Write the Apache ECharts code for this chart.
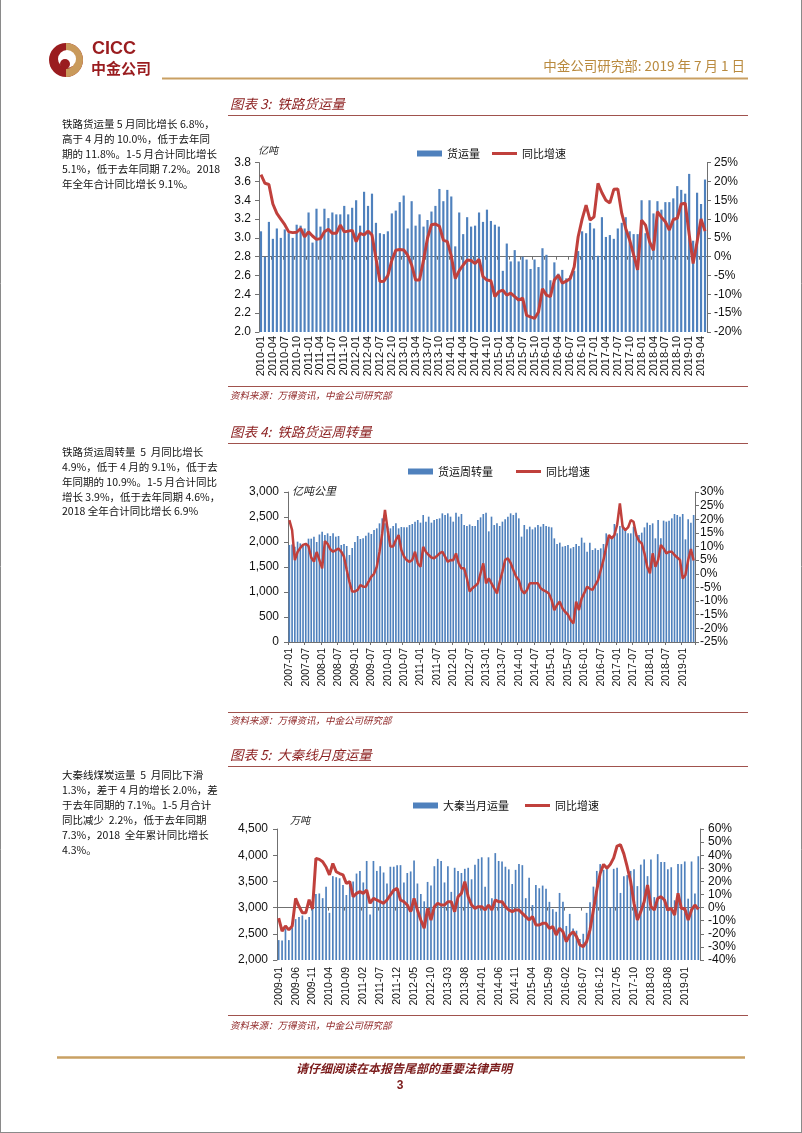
<!DOCTYPE html>
<html><head><meta charset="utf-8">
<script src="https://cdn.jsdelivr.net/npm/echarts@6/dist/echarts.min.js"></script>
<style>html,body{margin:0;padding:0;background:#fff}#c{width:802px;height:1133px}</style>
</head><body><div id="c"></div>
<script>
// ---------- Chart 3: 铁路货运量 (亿吨), 2010-01 .. 2019-05 ----------
const railVolume = [3.07,2.80,3.17,2.99,3.10,3.00,3.09,3.05,3.00,3.14,3.13,3.10,
3.27,2.95,3.31,3.12,3.31,3.21,3.27,3.25,3.25,3.34,3.25,3.32,
3.40,3.13,3.49,3.34,3.47,3.16,3.05,3.04,3.07,3.26,3.29,3.38,
3.45,3.10,3.39,3.13,3.25,3.12,3.19,3.28,3.34,3.52,3.39,3.51,
3.44,2.91,3.27,3.04,3.22,3.12,3.13,3.27,3.17,3.30,3.18,3.14,
3.12,2.65,2.94,2.75,2.87,2.75,2.80,2.77,2.67,2.77,2.69,2.89,
2.82,2.55,2.74,2.62,2.66,2.57,2.60,2.65,2.86,3.07,3.05,3.16,
3.10,2.81,3.22,3.01,3.03,2.99,3.10,3.16,3.22,3.07,3.04,3.04,
3.40,3.05,3.40,3.26,3.39,3.30,3.38,3.38,3.42,3.55,3.51,3.47,
3.68,2.97,3.48,3.36,3.62];
const railVolumeYoY = [21.8,19.5,19.2,14,11.5,10,8.5,6.6,6.4,6.5,7.5,5.3,
6.6,5.5,4.6,4.8,6.6,7.3,6.2,6.2,8.4,6.6,6.8,7,
4,6.2,5.8,6.8,5.8,-0.4,-6.6,-6.5,-5,-1,1.7,1.9,
1.8,0.4,-2.2,-6.2,-6.2,-0.9,4.9,8.5,8.7,8.1,4.4,4,
0.2,-5.8,-3.7,-2.2,-0.9,-1,-1.8,-0.7,-5.3,-6.2,-6.4,-10.6,
-9.3,-8.9,-10.2,-9.7,-10.6,-11.5,-11,-15.6,-16,-16.4,-14.7,-8.5,
-10.2,-10.6,-6.2,-4.9,-7,-6.5,-5.8,-2.7,5.3,10,13.7,9.7,
10.6,19.5,17,15,14.3,17.9,18,11.5,7.5,4.4,0.5,-3.5,
9.7,8.4,4,1.7,12,10.5,9.3,7.1,9.9,10.2,14,14.2,
6,-1.8,4,10,6.8];

// ---------- Chart 4: 铁路货运周转量 (亿吨公里), 2007-01 .. 2019-05 ----------
const railTurnover = [1940,1950,1907,2007,1973,1920,1940,2067,2067,2107,
2000,2150,2207,2140,2173,2120,2173,2107,2120,1940,
1960,1920,1740,1880,2000,2120,2060,2073,2127,2187,
2160,2240,2273,2373,2473,2373,2307,2273,2320,2373,
2273,2300,2293,2293,2340,2360,2407,2440,2387,2540,
2407,2507,2387,2440,2460,2473,2573,2540,2573,2507,
2407,2587,2507,2560,2340,2320,2350,2320,2320,2440,
2493,2560,2587,2213,2507,2340,2373,2320,2407,2453,
2507,2573,2540,2587,2473,2107,2340,2253,2307,2253,
2293,2340,2307,2360,2320,2307,2293,2073,1960,1987,
1907,1920,1940,1873,1900,1960,1920,2087,1987,1807,
1987,1840,1873,1840,1873,1960,2173,2120,2107,2360,
2173,2320,2340,2250,2173,2173,2307,2173,2140,2187,
2293,2387,2340,2373,2073,2440,2073,2427,2407,2427,
2473,2560,2540,2507,2560,2053,2453,2387,2540];
const railTurnoverYoY = [19.7,16,5,8,9.5,10.6,11,10.2,6,4.5,
8,5,2,12,11,9,8.1,8.7,9.3,8.1,
6.3,1.4,-3,-6.5,-6.5,-5.9,-4.1,-4.7,-4.7,-2.9,
-1,0,2.6,8,14.8,23.4,16,10,10,12.4,
14.2,8.7,6.3,5,4.4,5.1,8.1,3.8,2.6,9.9,
8,6.9,6,5.7,6.5,7.5,8.1,6.3,4.4,5.1,
5,7.5,3.8,2,2,-1.7,-6.5,-5.3,-4.5,-3.5,
0.2,3.8,-3.5,-1.7,-3.5,-5.3,-7.2,-2.9,0.8,5.1,
5.7,4,1.4,-1,-2.3,-5.9,-7.2,-5.9,-3.5,-3.5,
-3.5,-3.5,-5.3,-6,-6.5,-7.2,-9.6,-13.3,-11.4,-10.2,
-12.7,-14,-15,-17,-18.2,-10.2,-13.3,-9,-7,-4.7,
-5.5,-5.9,-4.1,-2.3,1.4,5.1,9.9,14.2,13,14.2,
18,25.8,17.3,16,17,19.7,19.1,14.2,12,11.2,
7.5,2.6,0.2,7.5,2.6,5.1,10.6,9.3,7.5,8.1,
8.1,6.9,6,5.1,-1.7,-0.4,5,9.1,4.9];

// ---------- Chart 5: 大秦线月度运量 (万吨), 2009-01 .. 2019-05 ----------
const daqinVolume = [2380,2370,2600,2380,2620,2780,2820,2850,2770,2820,
3050,3260,3270,3180,3400,2900,3600,3580,3560,3430,
3240,3500,3500,3650,3700,3480,3890,2870,3890,3700,
3790,3670,3460,3780,3780,3810,3810,3480,3660,3690,
3900,3460,3260,3120,3490,3420,3790,3930,3890,3480,
3790,3300,3760,3700,3660,3740,3760,3540,3820,3930,
3960,3400,3960,3180,4040,3890,3880,3780,3730,3450,
3720,3830,3810,3180,3570,3050,3430,3370,3420,3360,
3110,2970,2920,3280,3110,2650,2880,2600,2560,2400,
2500,2900,3100,3400,3700,3830,3720,3800,3000,3740,
3760,3280,3600,3620,3700,3730,3410,3820,3920,3600,
3920,3200,4020,3870,3870,3730,3770,3140,3830,3830,
3880,3170,3880,3270,3980];
const daqinYoY = [-8,-18,-14,-17,-14,7,1,-4,-4,6,
-1,37.6,36.8,35,31,25,33.7,27.4,26,25,
18.5,19.8,8.3,10.9,12.2,10.9,13.4,3.3,7.1,5.8,
4.5,3.3,5.8,9.6,13.4,14.7,5.8,4.5,2,-3.1,
7.1,-1.8,-9.5,-15.8,-0.6,-9.5,0.7,3.3,2,2,
4.5,4.5,-3.1,8.3,10.9,19.8,8.3,2,-0.6,0.7,
0.7,-1.8,2,-1.8,5.8,4.5,4.5,0.7,-1.8,-3.1,
-1.8,-1.8,-4.4,-6.9,-9.5,-6.9,-13.3,-13.3,-12,-12,
-15.8,-14.5,-20.9,-15.8,-18.4,-26,-20.9,-18.4,-22.2,-28.5,
-29.8,-26,-17,-1.8,13.4,26,33,30,33,38,
47,48,41,31,20,3.3,-9.5,-3.1,4.5,17.2,
0.7,-1.8,7.1,8.3,5.8,-1.8,-0.6,-5.7,10.9,-0.6,
-0.6,-9.5,-1.8,2.0,-1.3];

// category labels (months)
function months(y, m, n) {
  const out = [];
  for (let i = 0; i < n; i++) {
    const k = m - 1 + i;
    out.push((y + Math.floor(k / 12)) + '-' + String(k % 12 + 1).padStart(2, '0'));
  }
  return out;
}
const cat1 = months(2010, 1, railVolume.length);
const cat2 = months(2007, 1, railTurnover.length);
const cat3 = months(2009, 1, daqinVolume.length);

const BLUE = '#4F81BD', RED = '#C0403C', MAROON = '#8B1F1F', GOLD = '#C9A063';
const NUM = '"Liberation Sans", Arial, sans-serif';
const CJK = '"Noto Sans CJK SC", sans-serif';
const LINE_ICON = 'path://M0,0L0,6M0,1.4L25,1.4L25,4.6L0,4.6Z';

function xAx(gi, data, interval, fs, margin) {
  return { gridIndex: gi, type: 'category', data: data, boundaryGap: true,
    axisLine: { lineStyle: { color: '#707070', width: 1 } },
    axisTick: { show: true, interval: interval, length: 3, lineStyle: { color: '#707070' } },
    axisLabel: { rotate: 90, interval: interval, fontSize: fs, margin: margin, color: '#111', fontFamily: NUM } };
}
function yAx(gi, pos, min, max, interval, fmt, margin) {
  return { gridIndex: gi, type: 'value', position: pos, min: min, max: max, interval: interval,
    axisLine: { show: true, lineStyle: { color: '#707070' } },
    axisTick: { show: true, length: 4, lineStyle: { color: '#707070' } },
    splitLine: { show: false },
    axisLabel: { formatter: fmt, fontSize: 12, margin: margin, color: '#111', fontFamily: NUM } };
}
const fmtThousand = v => v.toLocaleString('en-US');
const fmtPct = v => Math.round(v) + '%';

function legendFor(names, left, top, gap) {
  return { data: [{ name: names[0], icon: 'rect', itemStyle: { color: BLUE } },
                  { name: names[1], icon: LINE_ICON, itemStyle: { color: RED, borderWidth: 0 } }],
    left: left, top: top, itemWidth: 25, itemHeight: 6, itemGap: gap, padding: 0,
    selectedMode: false,
    textStyle: { fontSize: 11, fontFamily: CJK, color: '#111' } };
}

function txt(x, y, text, font, fill, align) {
  return { type: 'text', x: x, y: y, silent: true,
    style: { text: text, font: font, fill: fill, textAlign: align || 'left', textVerticalAlign: 'middle' } };
}
function ln(x1, y1, x2, y2, color, w) {
  return { type: 'line', silent: true, shape: { x1: x1, y1: y1, x2: x2, y2: y2 }, style: { stroke: color, lineWidth: w } };
}

const sideFont = '10.5px ' + CJK;
const graphics = [
  // page border
  ln(0.5, 0, 0.5, 1133, '#8a8a8a', 1), ln(801.5, 0, 801.5, 1133, '#8a8a8a', 1), ln(0, 1132.5, 802, 1132.5, '#8a8a8a', 1),
  // logo
  { type: 'circle', shape: { cx: 66, cy: 60, r: 17 }, style: { fill: '#9A1C1F' } },
  { type: 'sector', shape: { cx: 66, cy: 60, r: 17, r0: 9, startAngle: -Math.PI / 2, endAngle: Math.PI / 2 }, style: { fill: '#C99A5B' } },
  { type: 'circle', shape: { cx: 67, cy: 59, r: 9 }, style: { fill: '#ffffff' } },
  { type: 'circle', shape: { cx: 65, cy: 64, r: 5 }, style: { fill: '#9A1C1F' } },
  txt(92, 49, 'CICC', 'bold 18px ' + NUM, '#9A1C1F'),
  txt(91, 68, '中金公司', 'bold 15px ' + CJK, '#9A1C1F'),
  txt(745, 66, '中金公司研究部: 2019 年 7 月 1 日', '13.5px ' + CJK, '#B98A3E', 'right'),
  ln(162, 78.5, 748, 78.5, GOLD, 2),
  // chart 3 block
  txt(230, 104, '图表 3:  铁路货运量', 'italic 13.5px ' + CJK, MAROON),
  ln(228, 115.5, 748, 115.5, '#A0524D', 1),
  txt(258, 150, '亿吨', 'italic 10px ' + CJK, '#222'),
  ln(228, 386.5, 748, 386.5, '#A0524D', 1),
  txt(230, 395, '资料来源：万得资讯，中金公司研究部', 'italic 9.5px ' + CJK, MAROON),
  txt(62, 124, '铁路货运量 5 月同比增长 6.8%，', sideFont, '#111'),
  txt(62, 139, '高于 4 月的 10.0%，低于去年同', sideFont, '#111'),
  txt(62, 154, '期的 11.8%。1-5 月合计同比增长', sideFont, '#111'),
  txt(62, 169, '5.1%，低于去年同期 7.2%。2018', sideFont, '#111'),
  txt(62, 184, '年全年合计同比增长 9.1%。', sideFont, '#111'),
  // chart 4 block
  txt(230, 432, '图表 4:  铁路货运周转量', 'italic 13.5px ' + CJK, MAROON),
  ln(228, 443.5, 748, 443.5, '#A0524D', 1),
  txt(292, 491, '亿吨公里', 'italic 11px ' + CJK, '#222'),
  ln(228, 712.5, 748, 712.5, '#A0524D', 1),
  txt(230, 720, '资料来源：万得资讯，中金公司研究部', 'italic 9.5px ' + CJK, MAROON),
  txt(62, 452, '铁路货运周转量  5  月同比增长', sideFont, '#111'),
  txt(62, 467, '4.9%，低于 4 月的 9.1%，低于去', sideFont, '#111'),
  txt(62, 482, '年同期的 10.9%。1-5 月合计同比', sideFont, '#111'),
  txt(62, 497, '增长 3.9%，低于去年同期 4.6%，', sideFont, '#111'),
  txt(62, 511, '2018 全年合计同比增长 6.9%', sideFont, '#111'),
  // chart 5 block
  txt(230, 755, '图表 5:  大秦线月度运量', 'italic 13.5px ' + CJK, MAROON),
  ln(228, 766.5, 748, 766.5, '#A0524D', 1),
  txt(290, 820, '万吨', 'italic 10px ' + CJK, '#222'),
  ln(228, 1015.5, 748, 1015.5, '#A0524D', 1),
  txt(230, 1025, '资料来源：万得资讯，中金公司研究部', 'italic 9.5px ' + CJK, MAROON),
  txt(62, 775, '大秦线煤炭运量  5  月同比下滑', sideFont, '#111'),
  txt(62, 790, '1.3%，差于 4 月的增长 2.0%，差', sideFont, '#111'),
  txt(62, 805, '于去年同期的 7.1%。1-5 月合计', sideFont, '#111'),
  txt(62, 820, '同比减少  2.2%，低于去年同期', sideFont, '#111'),
  txt(62, 835, '7.3%，2018  全年累计同比增长', sideFont, '#111'),
  txt(62, 850, '4.3%。', sideFont, '#111'),
  // footer
  ln(57, 1057.5, 745, 1057.5, GOLD, 2.5),
  txt(404, 1068, '请仔细阅读在本报告尾部的重要法律声明', 'italic bold 12px ' + CJK, '#7A1A1A', 'center'),
  txt(400, 1086, '3', 'bold 12px ' + NUM, '#7A1A1A', 'center')
];

const chart = echarts.init(document.getElementById('c'), null, { renderer: 'canvas' });
chart.setOption({
  animation: false,
  backgroundColor: '#ffffff',
  grid: [
    { left: 259, top: 162.6, width: 448, height: 169.4 },
    { left: 288, top: 492, width: 407, height: 150 },
    { left: 277, top: 829, width: 423, height: 131 }
  ],
  legend: [
    legendFor(['货运量', '同比增速'], 417, 148, 12),
    legendFor(['货运周转量', '同比增速'], 408, 466, 23),
    legendFor(['大秦当月运量', '同比增速'], 413, 800, 16)
  ],
  xAxis: [ xAx(0, cat1, 2, 11, 4), xAx(1, cat2, 5, 10.5, 6), xAx(2, cat3, 4, 10.5, 7) ],
  yAxis: [
    yAx(0, 'left', 2, 3.8, 0.2, v => v.toFixed(1), 8),
    yAx(0, 'right', -20, 25, 5, fmtPct, 7),
    yAx(1, 'left', 0, 3000, 500, fmtThousand, 9),
    yAx(1, 'right', -25, 30, 5, fmtPct, 5),
    yAx(2, 'left', 2000, 4500, 500, fmtThousand, 9),
    yAx(2, 'right', -40, 60, 10, fmtPct, 8)
  ],
  series: [
    { type: 'bar', name: '货运量', xAxisIndex: 0, yAxisIndex: 0, data: railVolume, barWidth: '55%', itemStyle: { color: BLUE } },
    { type: 'line', name: '同比增速', xAxisIndex: 0, yAxisIndex: 1, data: railVolumeYoY, symbol: 'none', z: 5,
      lineStyle: { color: RED, width: 3 }, itemStyle: { color: RED } },
    { type: 'bar', name: '货运周转量', xAxisIndex: 1, yAxisIndex: 2, data: railTurnover, barWidth: '60%', itemStyle: { color: BLUE } },
    { type: 'line', name: '同比增速', xAxisIndex: 1, yAxisIndex: 3, data: railTurnoverYoY, symbol: 'none', z: 5,
      lineStyle: { color: RED, width: 2.5 }, itemStyle: { color: RED } },
    { type: 'bar', name: '大秦当月运量', xAxisIndex: 2, yAxisIndex: 4, data: daqinVolume, barWidth: '50%', itemStyle: { color: BLUE } },
    { type: 'line', name: '同比增速', xAxisIndex: 2, yAxisIndex: 5, data: daqinYoY, symbol: 'none', z: 5,
      lineStyle: { color: RED, width: 3 }, itemStyle: { color: RED } }
  ],
  graphic: graphics
});
</script>
</body></html>
